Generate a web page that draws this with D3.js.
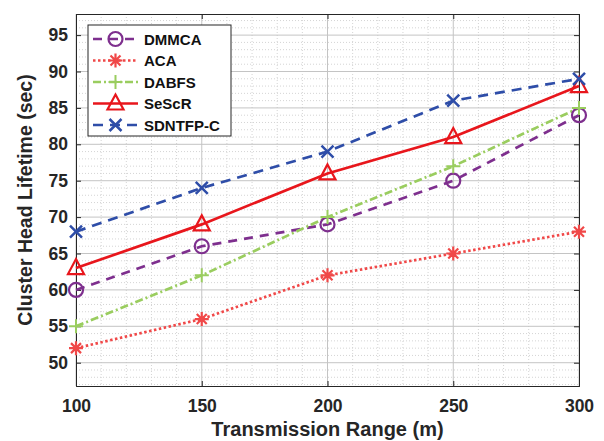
<!DOCTYPE html>
<html>
<head>
<meta charset="utf-8">
<script src="https://cdn.jsdelivr.net/npm/d3@7"></script>
<style>
  body { margin: 0; background: #fff; }
  text { font-family: "Liberation Sans", Arial, sans-serif; font-weight: bold; }
</style>
</head>
<body>
<div class="chart"></div>
<script>
// Data
var ranges = [100, 150, 200, 250, 300];
var dmmca = [60, 66, 69, 75, 84];
var aca = [52, 56, 62, 65, 68];
var dabfs = [55, 62, 70, 77, 85];
var sescr = [63, 69, 76, 81, 88];
var sdntfp = [68, 74, 79, 86, 89];
var xTicks = [100, 150, 200, 250, 300];
var yTicks = [50, 55, 60, 65, 70, 75, 80, 85, 90, 95];

var series = [
  { name: "DMMCA", values: dmmca, color: "#7E2F8E", dash: "9,7", marker: "circle" },
  { name: "ACA", values: aca, color: "#F04848", dash: "2.5,2.5", marker: "star" },
  { name: "DABFS", values: dabfs, color: "#9ACD5F", dash: "8,3,2,3", marker: "plus" },
  { name: "SeScR", values: sescr, color: "#E8161C", dash: null, marker: "triangle" },
  { name: "SDNTFP-C", values: sdntfp, color: "#2E4DA8", dash: "10,7", marker: "cross" }
];

var svgWidth = 604;
var svgHeight = 441;
var margin = { top: 14, right: 25, bottom: 55, left: 76 };
var width = svgWidth - margin.left - margin.right;
var height = svgHeight - margin.top - margin.bottom;

var svg = d3.select(".chart")
  .append("svg")
  .attr("width", svgWidth)
  .attr("height", svgHeight);

var g = svg.append("g")
  .attr("transform", `translate(${margin.left}, ${margin.top})`);

var x = d3.scaleLinear().domain([100, 300]).range([0, width]);
var y = d3.scaleLinear().domain([46.8, 97.9]).range([height, 0]);

// minor grid
g.append("g").selectAll("line")
  .data(d3.range(110, 300, 10).filter(v => v % 50 != 0))
  .enter().append("line")
  .attr("x1", d => x(d)).attr("x2", d => x(d))
  .attr("y1", 0).attr("y2", height)
  .attr("stroke", "#d4d4d4").attr("stroke-dasharray", "1,2");

g.append("g").selectAll("line")
  .data(d3.range(47, 98, 1).filter(v => v % 5 != 0))
  .enter().append("line")
  .attr("x1", 0).attr("x2", width)
  .attr("y1", d => y(d)).attr("y2", d => y(d))
  .attr("stroke", "#d4d4d4").attr("stroke-dasharray", "1,2");

// major grid
g.append("g").selectAll("line")
  .data(xTicks)
  .enter().append("line")
  .attr("x1", d => x(d)).attr("x2", d => x(d))
  .attr("y1", 0).attr("y2", height)
  .attr("stroke", "#c4c4c4").attr("stroke-width", 1);

g.append("g").selectAll("line")
  .data(yTicks)
  .enter().append("line")
  .attr("x1", 0).attr("x2", width)
  .attr("y1", d => y(d)).attr("y2", d => y(d))
  .attr("stroke", "#c4c4c4").attr("stroke-width", 1);

// axes
var xAxis = d3.axisBottom(x).tickValues(xTicks).tickSize(-5).tickPadding(14);
var yAxis = d3.axisLeft(y).tickValues(yTicks).tickSize(-5).tickPadding(8);

g.append("g").attr("transform", `translate(0, ${height})`).call(xAxis)
  .call(a => a.selectAll("text").style("font-size", "17.5px").attr("fill", "#262626"));
g.append("g").call(yAxis)
  .call(a => a.selectAll("text").style("font-size", "17.5px").attr("fill", "#262626"));
g.append("g").call(d3.axisTop(x).tickValues(xTicks).tickSize(-5).tickFormat(""));
g.append("g").attr("transform", `translate(${width}, 0)`)
  .call(d3.axisRight(y).tickValues(yTicks).tickSize(-5).tickFormat(""));
g.selectAll(".domain").attr("stroke", "#262626");
g.selectAll(".tick line").attr("stroke", "#262626");

// lines
var line = d3.line()
  .x((d, i) => x(ranges[i]))
  .y(d => y(d));

series.forEach(function (s) {
  g.append("path")
    .datum(s.values)
    .attr("fill", "none")
    .attr("stroke", s.color)
    .attr("stroke-width", 2.7)
    .attr("stroke-dasharray", s.dash)
    .attr("d", line);
});

function drawMarker(sel, type, color) {
  if (type == "circle") {
    sel.append("circle").attr("r", 7).attr("fill", "none")
      .attr("stroke", color).attr("stroke-width", 2.2);
  } else if (type == "triangle") {
    sel.append("path").attr("d", "M0,-9L8,6L-8,6Z").attr("fill", "none")
      .attr("stroke", color).attr("stroke-width", 2.2);
  } else if (type == "plus") {
    sel.append("path").attr("d", "M-7,0H7M0,-7V7")
      .attr("stroke", color).attr("stroke-width", 2);
  } else if (type == "cross") {
    sel.append("path").attr("d", "M-6,-6L6,6M-6,6L6,-6")
      .attr("stroke", color).attr("stroke-width", 2.5);
  } else if (type == "star") {
    sel.append("path").attr("d", "M-7,0H7M0,-7V7M-5,-5L5,5M-5,5L5,-5")
      .attr("stroke", color).attr("stroke-width", 2.2);
  }
}

series.forEach(function (s) {
  s.values.forEach(function (v, i) {
    var m = g.append("g").attr("transform", `translate(${x(ranges[i])}, ${y(v)})`);
    drawMarker(m, s.marker, s.color);
  });
});

// legend
var legend = svg.append("g").attr("transform", "translate(88, 25)");
legend.append("rect")
  .attr("width", 143).attr("height", 111)
  .attr("fill", "#fff").attr("stroke", "#262626").attr("stroke-width", 1);

series.forEach(function (s, i) {
  var row = legend.append("g").attr("transform", `translate(0, ${14 + i * 21.5})`);
  row.append("line")
    .attr("x1", 5).attr("x2", 50)
    .attr("stroke", s.color).attr("stroke-width", 2.5)
    .attr("stroke-dasharray", s.dash);
  var m = row.append("g").attr("transform", "translate(27.5, 0)");
  drawMarker(m, s.marker, s.color);
  row.append("text")
    .attr("x", 56).attr("y", 5.5)
    .style("font-size", "15px")
    .attr("fill", "#111")
    .text(s.name);
});

// axis titles
svg.append("text")
  .attr("x", margin.left + width / 2)
  .attr("y", 436)
  .attr("text-anchor", "middle")
  .style("font-size", "20px")
  .attr("fill", "#262626")
  .text("Transmission Range (m)");

svg.append("text")
  .attr("transform", `translate(32, ${margin.top + height / 2}) rotate(-90)`)
  .attr("text-anchor", "middle")
  .style("font-size", "19.5px")
  .attr("fill", "#262626")
  .text("Cluster Head Lifetime (sec)");
</script>
</body>
</html>
